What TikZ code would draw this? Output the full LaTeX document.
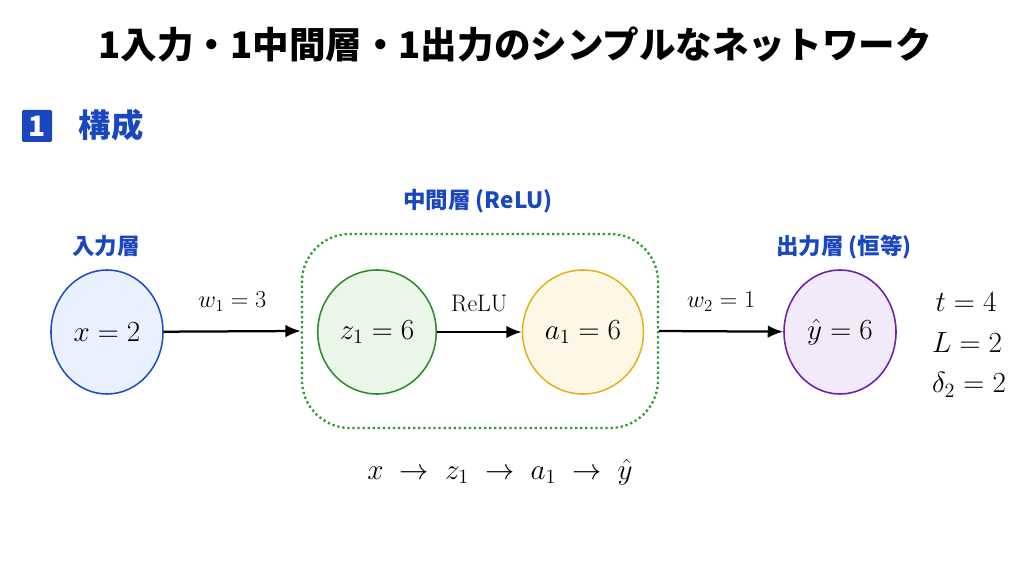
\documentclass[tikz,border=0pt]{standalone}
\usepackage{fontspec}
\newfontfamily\cjk{Noto Sans CJK JP}
\usetikzlibrary{shapes.geometric,arrows.meta}
\definecolor{lblblue}{HTML}{1A47C0}
\definecolor{inblue}{HTML}{1E4FC9}
\definecolor{infill}{HTML}{E8F1FD}
\definecolor{zgreen}{HTML}{2E8B2E}
\definecolor{zfill}{HTML}{EAF6E7}
\definecolor{aorange}{HTML}{E8B020}
\definecolor{afill}{HTML}{FDF8E6}
\definecolor{ypurple}{HTML}{6A1FB5}
\definecolor{yfill}{HTML}{F2EAF9}
\definecolor{dotgreen}{HTML}{2A9A2A}
\tikzset{
  neuron/.style={ellipse, line width=1.1pt, minimum width=2.8cm, minimum height=3.1cm,
    font=\fontsize{20}{24}\selectfont},
  layerlbl/.style={text=lblblue, font=\cjk\bfseries\fontsize{16}{19}\selectfont},
  wlbl/.style={font=\fontsize{18}{21}\selectfont},
  conn/.style={-{Latex[length=11pt,width=9pt]}, line width=1.6pt},
  vals/.style={font=\fontsize{21}{25}\selectfont},
}
\begin{document}
\begin{tikzpicture}[x=0.025cm,y=-0.025cm]
\useasboundingbox (0,0) rectangle (1024,569);
\node[font=\cjk\bfseries\fontsize{26}{30}\selectfont] (title) at (515,45) {1入力・1中間層・1出力のシンプルなネットワーク};
\fill[lblblue, rounded corners=1pt] (22,110) rectangle (52,142);
\node[text=white, font=\cjk\bfseries\fontsize{20}{24}\selectfont] (num) at (37,126) {1};
\node[anchor=west, text=lblblue, font=\cjk\bfseries\fontsize{23}{28}\selectfont] (sec) at (74,125) {構成};
% hidden layer box
\node[draw=dotgreen, dotted, line width=1.6pt, rounded corners=1.2cm, minimum width=8.9cm, minimum height=4.85cm] (hid) at (480,331) {};
\node[layerlbl] (hidlbl) at (478,201) {中間層 (ReLU)};
% neurons
\node[neuron, draw=inblue, fill=infill] (x) at (107,332) {$x=2$};
\node[neuron, draw=zgreen, fill=zfill] (z) at (377,332) {$z_1=6$};
\node[neuron, draw=aorange, fill=afill] (a) at (583,332) {$a_1=6$};
\node[neuron, draw=ypurple, fill=yfill] (y) at (840,332) {$\hat{y}=6$};
\node[layerlbl] (inlbl) at (106,246) {入力層};
\node[layerlbl] (outlbl) at (844,247) {出力層 (恒等)};
% connections
\draw[conn] (x) -- (hid.west) node[midway, above=10pt, wlbl] {$w_1=3$};
\draw[conn] (z) -- (a) node[midway, above=10pt, font=\fontsize{17}{20}\selectfont] {ReLU};
\draw[conn] (hid.east) -- (y) node[midway, above=10pt, wlbl] {$w_2=1$};
% values
\node[vals] (t) at (966,302) {$t=4$};
\node[vals] (L) at (967,343) {$L=2$};
\node[vals] (d) at (969,385) {$\delta_2=2$};
\node[font=\fontsize{21}{25}\selectfont] (flow) at (500,472) {$x\;\rightarrow\;z_1\;\rightarrow\;a_1\;\rightarrow\;\hat{y}$};
\end{tikzpicture}
\end{document}
